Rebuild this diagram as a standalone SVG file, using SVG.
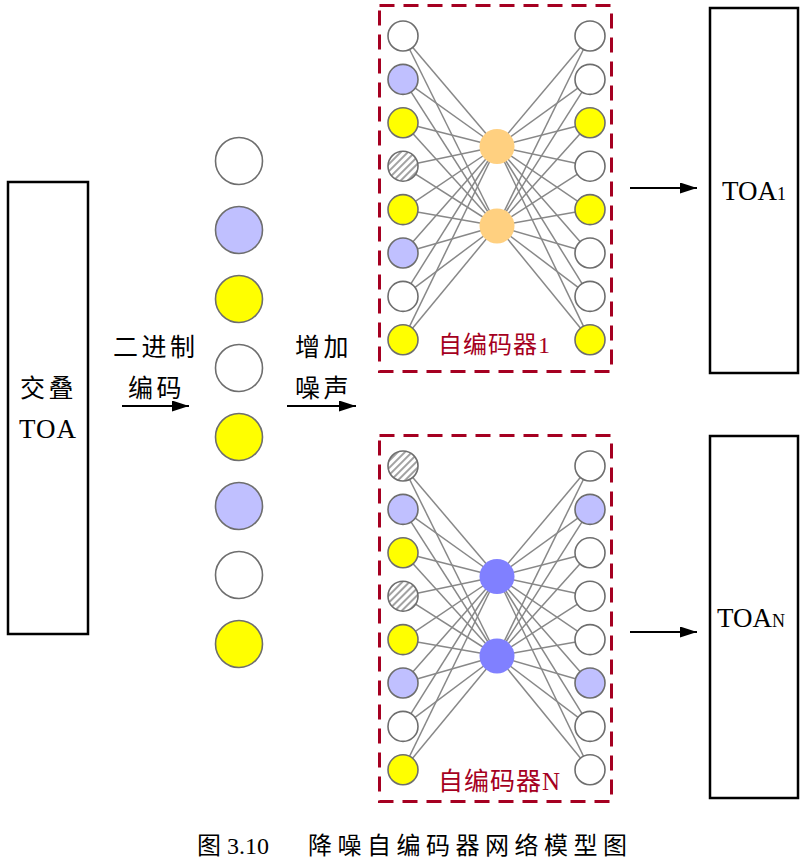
<svg xmlns="http://www.w3.org/2000/svg" width="809" height="860" viewBox="0 0 809 860">
<defs>
<style>
.box{fill:#fff;stroke:#000;stroke-width:2.5}
.ae{fill:none;stroke:#a50021;stroke-width:3;stroke-dasharray:15 9}
.n{stroke:#6e6e6e;stroke-width:1.6}
.w{fill:#fff}
.b{fill:#c0c0ff}
.y{fill:#ffff00}
.h{fill:url(#hatch)}
.ho{fill:#ffd080;stroke:none}
.hb{fill:#8080ff;stroke:none}
.cn line{stroke:#888;stroke-width:1.5}
.ar{stroke:#000;stroke-width:2;marker-end:url(#ah)}
.cjk{font-family:"Noto Sans CJK SC","Liberation Serif",sans-serif;font-size:25px;fill:#000;letter-spacing:3.5px}
.lat{font-family:"Liberation Serif","Noto Sans CJK SC",serif;fill:#000}
.lbl{font-family:"Noto Sans CJK SC",sans-serif;fill:#a50021;letter-spacing:1px}
</style>
<pattern id="hatch" patternUnits="userSpaceOnUse" width="5" height="5" patternTransform="rotate(45)">
<rect width="5" height="5" fill="#fff"/>
<line x1="1" y1="0" x2="1" y2="5" stroke="#7a7a7a" stroke-width="1.4"/>
</pattern>
<marker id="ah" markerUnits="userSpaceOnUse" markerWidth="18" markerHeight="12" refX="17" refY="5.5" orient="auto">
<path d="M0,0 L17,5.5 L0,11 z" fill="#000"/>
</marker>
</defs>
<rect width="809" height="860" fill="#fff"/>

<g id="input-box">
<rect class="box" x="8" y="182" width="80" height="452"/>
<text class="cjk" x="20" y="397">交叠</text>
<text x="48" y="438" font-family="Liberation Serif, serif" font-size="27" text-anchor="middle" letter-spacing="1">TOA</text>
</g>

<g id="binary-code">
<circle class="n w" cx="239" cy="161" r="23.5"/>
<circle class="n b" cx="239" cy="230" r="23.5"/>
<circle class="n y" cx="239" cy="299" r="23.5"/>
<circle class="n w" cx="239" cy="368" r="23.5"/>
<circle class="n y" cx="239" cy="437" r="23.5"/>
<circle class="n b" cx="239" cy="506" r="23.5"/>
<circle class="n w" cx="239" cy="575" r="23.5"/>
<circle class="n y" cx="239" cy="644" r="23.5"/>
</g>

<g id="labels">
<text class="cjk" x="113" y="356">二进制</text>
<text class="cjk" x="128" y="397">编码</text>
<text class="cjk" x="295" y="356">增加</text>
<text class="cjk" x="295" y="397">噪声</text>
</g>

<g id="connectors">
<line class="ar" x1="122" y1="406" x2="189" y2="406"/>
<line class="ar" x1="287" y1="406" x2="356" y2="406"/>
<line class="ar" x1="630" y1="188" x2="697" y2="188"/>
<line class="ar" x1="630" y1="632" x2="697" y2="632"/>
<g class="cn">
<line x1="403" y1="36" x2="497" y2="146.5"/><line x1="403" y1="36" x2="497" y2="226"/>
<line x1="403" y1="79.4" x2="497" y2="146.5"/><line x1="403" y1="79.4" x2="497" y2="226"/>
<line x1="403" y1="122.8" x2="497" y2="146.5"/><line x1="403" y1="122.8" x2="497" y2="226"/>
<line x1="403" y1="166.2" x2="497" y2="146.5"/><line x1="403" y1="166.2" x2="497" y2="226"/>
<line x1="403" y1="209.6" x2="497" y2="146.5"/><line x1="403" y1="209.6" x2="497" y2="226"/>
<line x1="403" y1="253" x2="497" y2="146.5"/><line x1="403" y1="253" x2="497" y2="226"/>
<line x1="403" y1="296.4" x2="497" y2="146.5"/><line x1="403" y1="296.4" x2="497" y2="226"/>
<line x1="403" y1="339.8" x2="497" y2="146.5"/><line x1="403" y1="339.8" x2="497" y2="226"/>
<line x1="590" y1="36" x2="497" y2="146.5"/><line x1="590" y1="36" x2="497" y2="226"/>
<line x1="590" y1="79.4" x2="497" y2="146.5"/><line x1="590" y1="79.4" x2="497" y2="226"/>
<line x1="590" y1="122.8" x2="497" y2="146.5"/><line x1="590" y1="122.8" x2="497" y2="226"/>
<line x1="590" y1="166.2" x2="497" y2="146.5"/><line x1="590" y1="166.2" x2="497" y2="226"/>
<line x1="590" y1="209.6" x2="497" y2="146.5"/><line x1="590" y1="209.6" x2="497" y2="226"/>
<line x1="590" y1="253" x2="497" y2="146.5"/><line x1="590" y1="253" x2="497" y2="226"/>
<line x1="590" y1="296.4" x2="497" y2="146.5"/><line x1="590" y1="296.4" x2="497" y2="226"/>
<line x1="590" y1="339.8" x2="497" y2="146.5"/><line x1="590" y1="339.8" x2="497" y2="226"/>

<line x1="403" y1="466" x2="497" y2="576.5"/><line x1="403" y1="466" x2="497" y2="656"/>
<line x1="403" y1="509.4" x2="497" y2="576.5"/><line x1="403" y1="509.4" x2="497" y2="656"/>
<line x1="403" y1="552.8" x2="497" y2="576.5"/><line x1="403" y1="552.8" x2="497" y2="656"/>
<line x1="403" y1="596.2" x2="497" y2="576.5"/><line x1="403" y1="596.2" x2="497" y2="656"/>
<line x1="403" y1="639.6" x2="497" y2="576.5"/><line x1="403" y1="639.6" x2="497" y2="656"/>
<line x1="403" y1="683" x2="497" y2="576.5"/><line x1="403" y1="683" x2="497" y2="656"/>
<line x1="403" y1="726.4" x2="497" y2="576.5"/><line x1="403" y1="726.4" x2="497" y2="656"/>
<line x1="403" y1="769.8" x2="497" y2="576.5"/><line x1="403" y1="769.8" x2="497" y2="656"/>
<line x1="590" y1="466" x2="497" y2="576.5"/><line x1="590" y1="466" x2="497" y2="656"/>
<line x1="590" y1="509.4" x2="497" y2="576.5"/><line x1="590" y1="509.4" x2="497" y2="656"/>
<line x1="590" y1="552.8" x2="497" y2="576.5"/><line x1="590" y1="552.8" x2="497" y2="656"/>
<line x1="590" y1="596.2" x2="497" y2="576.5"/><line x1="590" y1="596.2" x2="497" y2="656"/>
<line x1="590" y1="639.6" x2="497" y2="576.5"/><line x1="590" y1="639.6" x2="497" y2="656"/>
<line x1="590" y1="683" x2="497" y2="576.5"/><line x1="590" y1="683" x2="497" y2="656"/>
<line x1="590" y1="726.4" x2="497" y2="576.5"/><line x1="590" y1="726.4" x2="497" y2="656"/>
<line x1="590" y1="769.8" x2="497" y2="576.5"/><line x1="590" y1="769.8" x2="497" y2="656"/>
</g>
</g>

<g id="autoencoder-1">
<rect class="ae" x="379.5" y="5.5" width="232" height="366"/>
<circle class="n w" cx="403" cy="36" r="15"/>
<circle class="n b" cx="403" cy="79.4" r="15"/>
<circle class="n y" cx="403" cy="122.8" r="15"/>
<circle class="n h" cx="403" cy="166.2" r="15"/>
<circle class="n y" cx="403" cy="209.6" r="15"/>
<circle class="n b" cx="403" cy="253" r="15"/>
<circle class="n w" cx="403" cy="296.4" r="15"/>
<circle class="n y" cx="403" cy="339.8" r="15"/>
<circle class="ho" cx="497" cy="146.5" r="17.5"/>
<circle class="ho" cx="497" cy="226" r="17.5"/>
<circle class="n w" cx="590" cy="36" r="15"/>
<circle class="n w" cx="590" cy="79.4" r="15"/>
<circle class="n y" cx="590" cy="122.8" r="15"/>
<circle class="n w" cx="590" cy="166.2" r="15"/>
<circle class="n y" cx="590" cy="209.6" r="15"/>
<circle class="n w" cx="590" cy="253" r="15"/>
<circle class="n w" cx="590" cy="296.4" r="15"/>
<circle class="n y" cx="590" cy="339.8" r="15"/>
<text class="lbl" x="438" y="353" font-size="24">自编码器<tspan font-family="Liberation Serif, serif" font-size="24">1</tspan></text>
</g>

<g id="autoencoder-N">
<rect class="ae" x="379.5" y="435.5" width="232" height="366"/>
<circle class="n h" cx="403" cy="466" r="15"/>
<circle class="n b" cx="403" cy="509.4" r="15"/>
<circle class="n y" cx="403" cy="552.8" r="15"/>
<circle class="n h" cx="403" cy="596.2" r="15"/>
<circle class="n y" cx="403" cy="639.6" r="15"/>
<circle class="n b" cx="403" cy="683" r="15"/>
<circle class="n w" cx="403" cy="726.4" r="15"/>
<circle class="n y" cx="403" cy="769.8" r="15"/>
<circle class="hb" cx="497" cy="576.5" r="17.5"/>
<circle class="hb" cx="497" cy="656" r="17.5"/>
<circle class="n w" cx="590" cy="466" r="15"/>
<circle class="n b" cx="590" cy="509.4" r="15"/>
<circle class="n w" cx="590" cy="552.8" r="15"/>
<circle class="n w" cx="590" cy="596.2" r="15"/>
<circle class="n w" cx="590" cy="639.6" r="15"/>
<circle class="n b" cx="590" cy="683" r="15"/>
<circle class="n w" cx="590" cy="726.4" r="15"/>
<circle class="n w" cx="590" cy="769.8" r="15"/>
<text class="lbl" x="438" y="790" font-size="25">自编码器<tspan font-family="Liberation Serif, serif" font-size="25">N</tspan></text>
</g>

<g id="output-1">
<rect class="box" x="710" y="8" width="88" height="365"/>
<text class="lat" x="722" y="200" font-size="27">TOA<tspan font-size="18">1</tspan></text>
</g>

<g id="output-N">
<rect class="box" x="710" y="436" width="88" height="362"/>
<text class="lat" x="717" y="627" font-size="27">TOA<tspan font-size="18">N</tspan></text>
</g>

<g id="caption">
<text class="lat" x="197" y="854" font-size="24">图 3.10</text>
<text class="lat" x="308" y="854" font-size="24" letter-spacing="5.5">降噪自编码器网络模型图</text>
</g>
</svg>
